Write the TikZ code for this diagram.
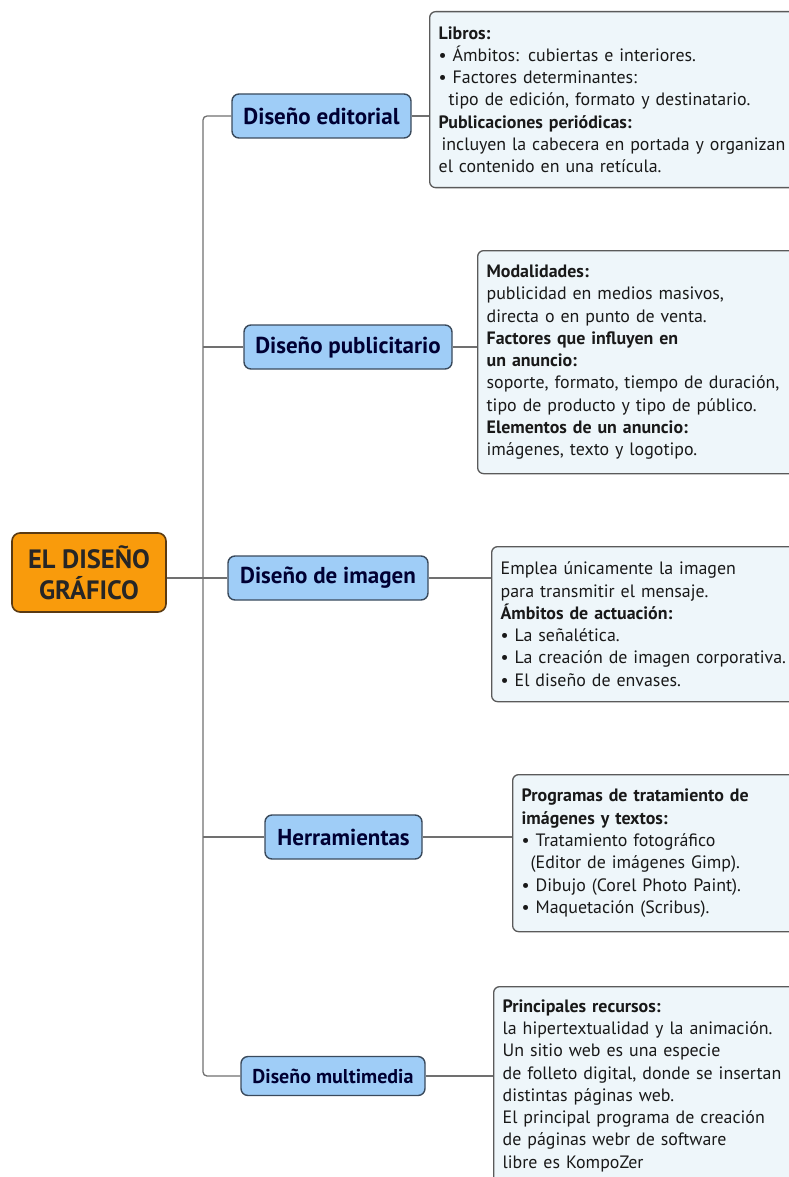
\documentclass[tikz,border=0pt]{standalone}
\usepackage{fontspec}
\setmainfont{PT Sans}
\definecolor{mainfill}{HTML}{F99B0C}
\definecolor{maindraw}{HTML}{5A3A12}
\definecolor{topicfill}{HTML}{9FCDF7}
\definecolor{topicdraw}{HTML}{3A4A5C}
\definecolor{notefill}{HTML}{EEF6FA}
\definecolor{notedraw}{HTML}{5A5A5A}
\definecolor{linkgray}{HTML}{707070}
\tikzset{
  maintopic/.style={draw=maindraw, fill=mainfill, line width=1.6pt, rounded corners=8pt,
    minimum width=154pt, minimum height=79pt, align=center, text=black!85,
    font=\fontsize{26.5}{31}\selectfont\bfseries},
  subtopic/.style={draw=topicdraw, fill=topicfill, line width=1.4pt, rounded corners=7pt,
    minimum height=44pt, inner xsep=8pt, text=blue!20!black,
    font=\fontsize{23}{26}\selectfont\bfseries},
  note/.style={draw=notedraw, fill=notefill, line width=1.3pt, rounded corners=6pt,
    anchor=north west, text width=400pt, inner xsep=9pt, align=left, text=black!90,
    font=\fontsize{17.9}{22.3}\selectfont},
  link/.style={draw=linkgray, line width=1.3pt},
}
\begin{document}
\begin{tikzpicture}[x=1pt,y=-1pt]
\useasboundingbox (0,0) rectangle (789,1177);
\clip (0,0) rectangle (789,1177);

% central topic
\node[maintopic] (main) at (89,572.5) {EL DISEÑO\\GRÁFICO};

% branches
\node[subtopic, minimum width=179pt] (edit) at (321.5,116) {Diseño editorial};
\node[subtopic, minimum width=208pt] (publi) at (348,347) {Diseño publicitario};
\node[subtopic, minimum width=200pt] (imagen) at (328,578) {Diseño de imagen};
\node[subtopic, minimum width=157pt] (herram) at (343.5,837) {Herramientas};
\node[subtopic, minimum width=184pt, minimum height=39pt,
  font=\fontsize{20}{24}\selectfont\bfseries] (multi) at (333,1076) {Diseño multimedia};

% notes
\node[note, minimum height=176pt] (nedit) at (429,11) {%
  \textbf{Libros:}\\
  • Ámbitos: cubiertas e interiores.\\
  • Factores determinantes:\\
  \hspace*{10pt}tipo de edición, formato y destinatario.\\
  \textbf{Publicaciones periódicas:}\\
  \hspace*{3pt}incluyen la cabecera en portada y organizan\\
  el contenido en una retícula.};
\node[note, minimum height=223pt] (npubli) at (477,250) {%
  \textbf{Modalidades:}\\
  publicidad en medios masivos,\\
  directa o en punto de venta.\\
  \textbf{Factores que influyen en}\\
  \textbf{un anuncio:}\\
  soporte, formato, tiempo de duración,\\
  tipo de producto y tipo de público.\\
  \textbf{Elementos de un anuncio:}\\
  imágenes, texto y logotipo.};
\node[note, minimum height=155pt] (nimagen) at (491,546) {%
  Emplea únicamente la imagen\\
  para transmitir el mensaje.\\
  \textbf{Ámbitos de actuación:}\\
  • La señalética.\\
  • La creación de imagen corporativa.\\
  • El diseño de envases.};
\node[note, minimum height=157pt] (nherram) at (512,774) {%
  \textbf{Programas de tratamiento de}\\
  \textbf{imágenes y textos:}\\
  • Tratamiento fotográfico\\
  \hspace*{9pt}(Editor de imágenes Gimp).\\
  • Dibujo (Corel Photo Paint).\\
  • Maquetación (Scribus).};
\node[note, minimum height=198pt] (nmulti) at (493,986) {%
  \textbf{Principales recursos:}\\
  la hipertextualidad y la animación.\\
  Un sitio web es una especie\\
  de folleto digital, donde se insertan\\
  distintas páginas web.\\
  El principal programa de creación\\
  de páginas webr de software\\
  libre es KompoZer};

% trunk
\coordinate (fork) at (203,578);
\draw[link, rounded corners=4pt] (edit.west) -| (fork) |- (multi.west);
\draw[link] (imagen.west -| main.east) -- (imagen.west);
\draw[link] (publi.west) -- (publi.west -| fork);
\draw[link] (herram.west) -- (herram.west -| fork);

% note links
\foreach \t/\n in {edit/nedit, publi/npubli, imagen/nimagen, herram/nherram, multi/nmulti}
  \draw[link] (\t.east) -- (\t.east -| \n.west);
\end{tikzpicture}
\end{document}
